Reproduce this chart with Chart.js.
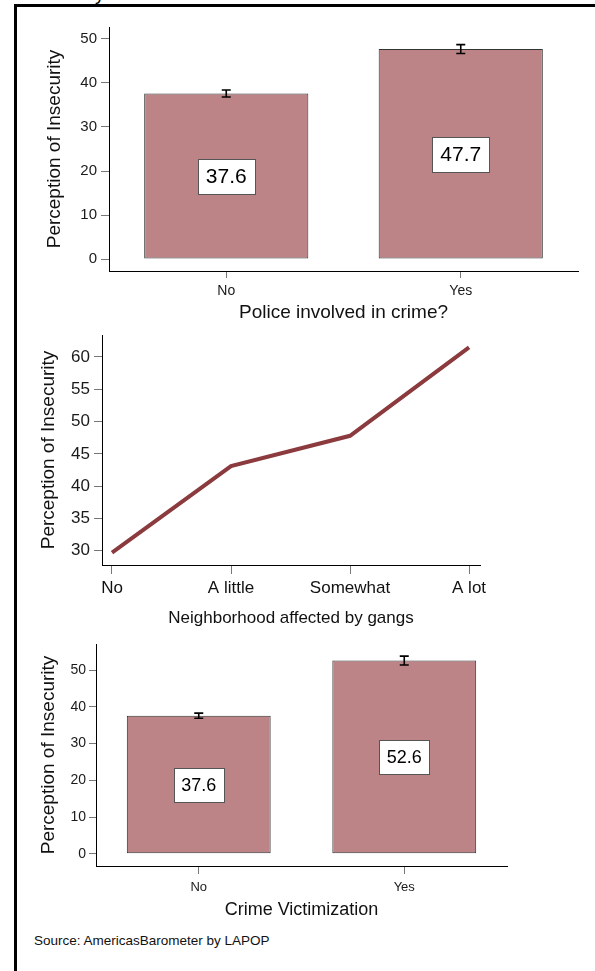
<!DOCTYPE html>
<html>
<head>
<meta charset="utf-8">
<script src="https://cdn.jsdelivr.net/npm/chart.js@4/dist/chart.umd.min.js"></script>
<style>
  body { margin: 0; background: #fff; width: 595px; height: 971px; overflow: hidden; position: relative;
         font-family: "Liberation Sans", Arial, sans-serif; }
  .frame { position: absolute; left: 14px; top: 4px; width: 640px; height: 1000px;
           border-top: 3px solid #000; border-left: 3px solid #000; }
  canvas { position: absolute; left: 0; }
  #c1 { top: 0; }
  #c2 { top: 320px; }
  #c3 { top: 625px; }
  .source { position: absolute; left: 34px; top: 933px; font-size: 13.5px; color: #111; }
  .cut { position: absolute; left: 95px; top: -16px; font-size: 19px; line-height: 19px; color: #000; }
</style>
</head>
<body>
<div class="cut">y</div>
<div class="frame"></div>
<canvas id="c1" width="595" height="330"></canvas>
<canvas id="c2" width="595" height="310"></canvas>
<canvas id="c3" width="595" height="300"></canvas>
<div class="source">Source: AmericasBarometer by LAPOP</div>
<script>
// data
const policeLabels = ['No', 'Yes'];
const policeMeans = [37.6, 47.7];
const policeCI = [0.8, 1.0];

const gangLabels = ['No', 'A little', 'Somewhat', 'A lot'];
const gangMeans = [29.7, 43.1, 47.8, 61.5];

const victimLabels = ['No', 'Yes'];
const victimMeans = [37.6, 52.6];
const victimCI = [0.7, 1.2];

const barTicks = [0, 10, 20, 30, 40, 50];
const gangTicks = [30, 35, 40, 45, 50, 55, 60];

const FONT = '"Liberation Sans", Arial, Helvetica, sans-serif';
const BAR_FILL = '#bc8486';
const LINE_COLOR = '#8b3a3e';
const Y_TITLE = 'Perception of Insecurity';

// error bars + white value boxes in the middle of each bar
const barExtras = {
    id: 'barExtras',
    afterDatasetsDraw(chart, args, opts) {
        if (!opts.ci) return;
        const ctx = chart.ctx;
        const y = chart.scales.y;
        const values = chart.data.datasets[0].data;
        chart.getDatasetMeta(0).data.forEach((bar, i) => {
            const v = values[i];
            const top = y.getPixelForValue(v + opts.ci[i]);
            const bot = y.getPixelForValue(v - opts.ci[i]);
            ctx.save();
            ctx.strokeStyle = '#000';
            ctx.lineWidth = 1.6;
            ctx.beginPath();
            ctx.moveTo(bar.x, top); ctx.lineTo(bar.x, bot);
            ctx.moveTo(bar.x - 4.5, top); ctx.lineTo(bar.x + 4.5, top);
            ctx.moveTo(bar.x - 4.5, bot); ctx.lineTo(bar.x + 4.5, bot);
            ctx.stroke();

            ctx.font = opts.fontSize + 'px ' + FONT;
            const text = v.toFixed(1);
            const w = Math.round(ctx.measureText(text).width + 2 * opts.padX);
            const h = opts.boxH;
            const cy = y.getPixelForValue(v / 2);
            const bx = Math.round(bar.x - w / 2) + 0.5;
            const by = Math.round(cy - h / 2) + 0.5;
            ctx.fillStyle = '#fff';
            ctx.fillRect(bx, by, w, h);
            ctx.strokeStyle = '#555';
            ctx.lineWidth = 1;
            ctx.strokeRect(bx, by, w, h);
            ctx.fillStyle = '#000';
            ctx.textAlign = 'center';
            ctx.textBaseline = 'middle';
            ctx.fillText(text, bar.x, cy + 1);
            ctx.restore();
        });
    }
};

function yAxis(o) {
    return {
        min: o.min,
        max: o.max,
        afterFit: s => { s.width = o.left; },
        afterBuildTicks: s => { s.ticks = o.ticks.map(v => ({ value: v })); },
        border: { color: '#000', width: 1 },
        grid: { drawOnChartArea: false, drawTicks: true, tickLength: o.tickLen, color: '#777' },
        ticks: { font: { size: o.tickSize, family: FONT }, color: '#1a1a1a', padding: o.tickPad },
        title: { display: true, text: Y_TITLE, color: '#111',
                 font: { size: 19, family: FONT }, padding: { top: o.titlePad, bottom: 0 } }
    };
}

function xTitle(text, size, padBottom) {
    return { display: true, text: text, color: '#111',
             font: { size: size, family: FONT }, padding: { top: 0, bottom: padBottom } };
}

function barChart(id, labels, means, ci, o) {
    const canvas = document.getElementById(id);
    return new Chart(canvas.getContext('2d'), {
        type: 'bar',
        data: {
            labels: labels,
            datasets: [{
                data: means,
                backgroundColor: BAR_FILL,
                borderColor: '#333',
                borderWidth: 1,
                borderSkipped: false,
                barPercentage: 0.7,
                categoryPercentage: 1.0
            }]
        },
        options: {
            responsive: false,
            animation: false,
            layout: { padding: { left: 0, top: o.top, right: canvas.width - o.right, bottom: 0 } },
            scales: {
                x: {
                    offset: true,
                    afterFit: s => { s.height = canvas.height - o.bottom; },
                    border: { color: '#000', width: 1 },
                    grid: { offset: false, drawOnChartArea: false, tickLength: o.xTickLen, color: '#777' },
                    ticks: { font: { size: o.xTickSize, family: FONT }, color: '#1a1a1a', padding: o.xTickPad },
                    title: xTitle(o.title, o.titleSize, o.titlePadBottom)
                },
                y: yAxis({ min: o.min, max: o.max, left: o.left, ticks: barTicks, tickLen: o.yTickLen,
                           tickSize: o.yTickSize, tickPad: o.yTickPad, titlePad: o.yTitlePad })
            },
            plugins: {
                legend: { display: false },
                tooltip: { enabled: false },
                barExtras: { ci: ci, fontSize: o.valueSize, padX: o.padX, boxH: o.boxH }
            }
        },
        plugins: [barExtras]
    });
}

barChart('c1', policeLabels, policeMeans, policeCI, {
    top: 27, bottom: 271, left: 109, right: 578, min: -2.7, max: 52.7,
    xTickLen: 7, xTickSize: 14, xTickPad: 5, yTickLen: 8, yTickSize: 15, yTickPad: 4, yTitlePad: 43.6,
    title: 'Police involved in crime?', titleSize: 19, titlePadBottom: 5.6,
    valueSize: 21, padX: 8, boxH: 35
});

// line chart: neighborhood gangs
(function () {
    const canvas = document.getElementById('c2');
    new Chart(canvas.getContext('2d'), {
        type: 'line',
        data: {
            datasets: [{
                data: gangMeans.map((v, i) => ({ x: i, y: v })),
                borderColor: LINE_COLOR,
                borderWidth: 4,
                pointRadius: 0,
                tension: 0,
                fill: false
            }]
        },
        options: {
            responsive: false,
            animation: false,
            layout: { padding: { left: 0, top: 15, right: canvas.width - 480, bottom: 0 } },
            scales: {
                x: {
                    type: 'linear',
                    min: -0.084,
                    max: 3.092,
                    afterFit: s => { s.height = canvas.height - 245; },
                    afterBuildTicks: s => { s.ticks = gangLabels.map((l, i) => ({ value: i })); },
                    border: { color: '#000', width: 1 },
                    grid: { drawOnChartArea: false, tickLength: 9, color: '#777' },
                    ticks: { font: { size: 17, family: FONT }, color: '#111', padding: 4,
                             maxRotation: 0, callback: v => gangLabels[v] },
                    title: xTitle('Neighborhood affected by gangs', 17, 1)
                },
                y: yAxis({ min: 27.8, max: 63.4, left: 102, ticks: gangTicks, tickLen: 8,
                           tickSize: 17, tickPad: 4, titlePad: 37.6 })
            },
            plugins: { legend: { display: false }, tooltip: { enabled: false } }
        }
    });
})();

barChart('c3', victimLabels, victimMeans, victimCI, {
    top: 19, bottom: 241, left: 96, right: 507, min: -3.3, max: 57.1,
    xTickLen: 8, xTickSize: 13, xTickPad: 6, yTickLen: 7, yTickSize: 14, yTickPad: 3, yTitlePad: 37.6,
    title: 'Crime Victimization', titleSize: 18, titlePadBottom: 4.5,
    valueSize: 18, padX: 7.5, boxH: 34
});
</script>
</body>
</html>
